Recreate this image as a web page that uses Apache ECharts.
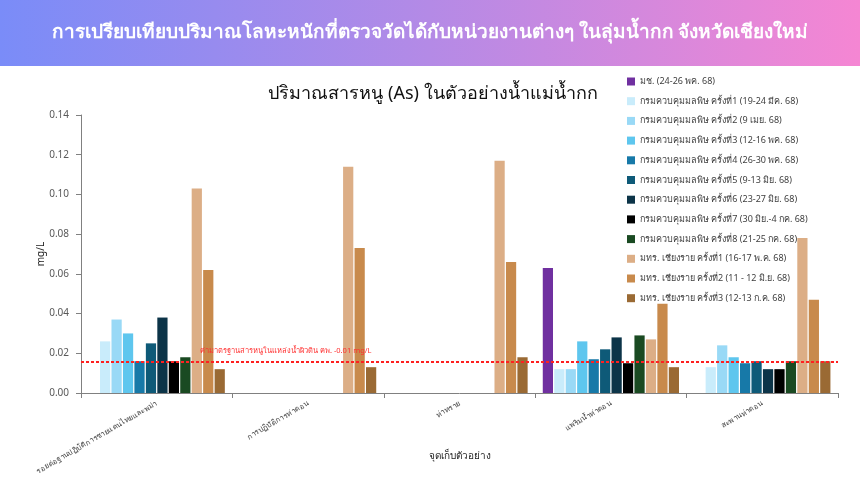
<!DOCTYPE html>
<html>
<head>
<meta charset="utf-8">
<script src="https://cdn.jsdelivr.net/npm/echarts@6/dist/echarts.min.js"></script>
<style>
html,body{margin:0;padding:0;background:#fff;}
#c{width:860px;height:480px;}
</style>
</head>
<body>
<div id="c"></div>
<script>
const categories = ['รอยต่อฐานปฏิบัติการชายแดนไทยและพม่า', 'การปฏิบัติการท่าตอน', 'ท่าทราย', 'แพริมน้ำท่าตอน', 'สะพานท่าตอน'];
const seriesNames = [
  'มช. (24-26 พค. 68)',
  'กรมควบคุมมลพิษ ครั้งที่1 (19-24 มีค. 68)',
  'กรมควบคุมมลพิษ ครั้งที่2 (9 เมย. 68)',
  'กรมควบคุมมลพิษ ครั้งที่3 (12-16 พค. 68)',
  'กรมควบคุมมลพิษ ครั้งที่4 (26-30 พค. 68)',
  'กรมควบคุมมลพิษ ครั้งที่5 (9-13 มิย. 68)',
  'กรมควบคุมมลพิษ ครั้งที่6 (23-27 มิย. 68)',
  'กรมควบคุมมลพิษ ครั้งที่7 (30 มิย.-4 กค. 68)',
  'กรมควบคุมมลพิษ ครั้งที่8 (21-25 กค. 68)',
  'มทร. เชียงราย ครั้งที่1 (16-17 พ.ค. 68)',
  'มทร. เชียงราย ครั้งที่2 (11 - 12 มิ.ย. 68)',
  'มทร. เชียงราย ครั้งที่3 (12-13 ก.ค. 68)'
];
const cmu    = [null, null, null, 0.063, null];
const pcd1   = [0.026, null, null, 0.012, 0.013];
const pcd2   = [0.037, null, null, 0.012, 0.024];
const pcd3   = [0.030, null, null, 0.026, 0.018];
const pcd4   = [0.016, null, null, 0.017, 0.015];
const pcd5   = [0.025, null, null, 0.022, 0.016];
const pcd6   = [0.038, null, null, 0.028, 0.012];
const pcd7   = [0.016, null, null, 0.015, 0.012];
const pcd8   = [0.018, null, null, 0.029, 0.016];
const rmut1  = [0.103, 0.114, 0.117, 0.027, 0.078];
const rmut2  = [0.062, 0.073, 0.066, 0.045, 0.047];
const rmut3  = [0.012, 0.013, 0.018, 0.013, 0.016];
const standardValue = 0.0155;
const standardLabel = 'ค่ามาตรฐานสารหนูในแหล่งน้ำผิวดิน คพ. -0.01 mg/L';
const yTicks = [0, 0.02, 0.04, 0.06, 0.08, 0.10, 0.12, 0.14];

const allData = [cmu, pcd1, pcd2, pcd3, pcd4, pcd5, pcd6, pcd7, pcd8, rmut1, rmut2, rmut3];
const colors = ['#7030a0', '#c9ecfb', '#99d9f6', '#5ec6ee', '#1779a8', '#0e5a78', '#0c3448', '#000000', '#1a4a22', '#dcae86', '#c88a4c', '#9a6a34'];

const FONT = '"Noto Sans", "DejaVu Sans", sans-serif';

const series = allData.map((d, i) => {
  const s = {
    name: seriesNames[i],
    type: 'bar',
    data: d,
    barGap: '12%',
    barCategoryGap: '10%',
    itemStyle: { color: colors[i] }
  };
  if (i === 0) {
    s.markLine = {
      silent: true,
      symbol: 'none',
      precision: 4,
      lineStyle: { color: '#ff2020', type: [3, 2], width: 2 },
      label: {
        show: true,
        position: 'insideStartTop',
        distance: [119, 7],
        formatter: standardLabel,
        color: '#ff3030',
        fontSize: 7.5,
        fontFamily: FONT
      },
      data: [{ yAxis: standardValue }]
    };
  }
  return s;
});

const chart = echarts.init(document.getElementById('c'));
chart.setOption({
  animation: false,
  textStyle: { fontFamily: FONT },
  graphic: [{
    type: 'rect',
    left: 0, top: 0, z: -10,
    shape: { width: 860, height: 66 },
    style: {
      fill: new echarts.graphic.LinearGradient(0, 0, 1, 0, [
        { offset: 0, color: '#7a8cf8' },
        { offset: 0.5, color: '#b48ae6' },
        { offset: 1, color: '#f586d3' }
      ])
    }
  }],
  title: [{
    text: 'การเปรียบเทียบปริมาณโลหะหนักที่ตรวจวัดได้กับหน่วยงานต่างๆ ในลุ่มน้ำกก จังหวัดเชียงใหม่',
    left: 'center',
    top: 18,
    textStyle: { color: '#ffffff', fontSize: 19, fontWeight: 'bold', fontFamily: FONT }
  }, {
    text: 'ปริมาณสารหนู (As) ในตัวอย่างน้ำแม่น้ำกก',
    left: 428,
    textAlign: 'center',
    top: 80,
    textStyle: { color: '#111111', fontSize: 18, fontWeight: 'normal', fontFamily: FONT }
  }],
  legend: {
    orient: 'vertical',
    left: 622,
    top: 72,
    itemWidth: 8,
    itemHeight: 8,
    itemGap: 10.7,
    icon: 'rect',
    textStyle: { fontSize: 9, color: '#404040', fontFamily: FONT },
    data: seriesNames
  },
  grid: { left: 81, right: 22, top: 115, bottom: 87, containLabel: false, outerBoundsMode: 'none' },
  xAxis: {
    type: 'category',
    data: categories,
    name: 'จุดเก็บตัวอย่าง',
    nameLocation: 'middle',
    nameGap: 58,
    nameMoveOverlap: false,
    nameTextStyle: { fontSize: 10, color: '#222', fontFamily: FONT },
    axisLine: { lineStyle: { color: '#808080' } },
    axisTick: { show: true, alignWithLabel: false, lineStyle: { color: '#808080' } },
    axisLabel: { rotate: 30, fontSize: 7.5, color: '#404040', interval: 0, margin: 10 }
  },
  yAxis: {
    type: 'value',
    min: 0,
    max: 0.14,
    interval: 0.02,
    name: 'mg/L',
    nameLocation: 'middle',
    nameGap: 35,
    nameMoveOverlap: false,
    nameTextStyle: { fontSize: 10, color: '#222', fontFamily: FONT },
    axisLine: { show: true, lineStyle: { color: '#808080' } },
    axisTick: { show: true, lineStyle: { color: '#808080' } },
    splitLine: { show: false },
    axisLabel: {
      fontSize: 10, color: '#595959', margin: 12,
      formatter: v => {
        const t = yTicks.find(x => Math.abs(x - v) < 1e-9);
        return (t !== undefined ? t : v).toFixed(2);
      }
    }
  },
  series: series
});
</script>
</body>
</html>
